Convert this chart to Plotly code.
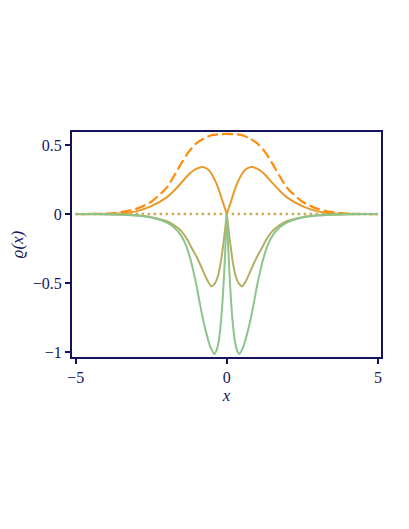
import plotly.graph_objs as go

# values (left half and right half of each curve)
x_dash = [-5, -4.5, -4, -3.5, -3, -2.5, -2, -1.75, -1.5, -1.25, -1, -0.75, -0.5, -0.25, 0,
          0.25, 0.5, 0.75, 1, 1.25, 1.5, 1.75, 2, 2.5, 3, 3.5, 4, 4.5, 5]
y_dash = [0, 0.001, 0.004, 0.014, 0.038, 0.09, 0.19, 0.275, 0.37, 0.455, 0.515, 0.55, 0.573, 0.58, 0.582,
          0.58, 0.573, 0.55, 0.515, 0.455, 0.37, 0.275, 0.19, 0.09, 0.038, 0.014, 0.004, 0.001, 0]

x_orange_l = [-5, -4, -3.5, -3, -2.5, -2, -1.75, -1.5, -1.25, -1, -0.8, -0.6, -0.45, -0.3, -0.15, 0]
y_orange_l = [0, 0.001, 0.005, 0.02, 0.058, 0.12, 0.17, 0.228, 0.29, 0.33, 0.342, 0.32, 0.272, 0.2, 0.1, 0]
x_orange_r = [0, 0.15, 0.3, 0.45, 0.6, 0.8, 1, 1.25, 1.5, 1.75, 2, 2.5, 3, 3.5, 4, 5]
y_orange_r = [0, 0.1, 0.2, 0.272, 0.32, 0.342, 0.33, 0.29, 0.228, 0.17, 0.12, 0.058, 0.02, 0.005, 0.001, 0]

x_zero = [-5, 5]
y_zero = [0, 0]

x_olive_l = [-5, -4, -3.5, -3, -2.5, -2, -1.75, -1.5, -1.33, -1.15, -1, -0.89, -0.75, -0.62, -0.51,
             -0.4, -0.3, -0.2, -0.1, 0]
y_olive_l = [0, -0.001, -0.003, -0.009, -0.022, -0.05, -0.08, -0.125, -0.177, -0.25, -0.31, -0.36, -0.43,
             -0.49, -0.524, -0.505, -0.455, -0.35, -0.19, 0]
x_olive_r = [0, 0.1, 0.2, 0.3, 0.4, 0.51, 0.62, 0.75, 0.89, 1, 1.15, 1.33, 1.5, 1.75, 2, 2.5, 3, 3.5,
             4, 5]
y_olive_r = [0, -0.19, -0.35, -0.455, -0.505, -0.524, -0.49, -0.43, -0.36, -0.31, -0.25, -0.177, -0.125,
             -0.08, -0.05, -0.022, -0.009, -0.003, -0.001, 0]

x_green_l = [-5, -4, -3.5, -3, -2.5, -2, -1.75, -1.5, -1.33, -1.2, -1.11, -1, -0.89, -0.78, -0.67, -0.55,
             -0.41, -0.35, -0.29, -0.23, -0.17, -0.11, -0.055, 0]
y_green_l = [0, -0.001, -0.004, -0.01, -0.025, -0.06, -0.095, -0.16, -0.237, -0.33, -0.41, -0.52, -0.65,
             -0.77, -0.87, -0.96, -1.015, -0.995, -0.95, -0.86, -0.72, -0.52, -0.28, 0]
x_green_r = [0, 0.055, 0.11, 0.17, 0.23, 0.29, 0.35, 0.41, 0.55, 0.67, 0.78, 0.89, 1, 1.11, 1.2, 1.33,
             1.5, 1.75, 2, 2.5, 3, 3.5, 4, 5]
y_green_r = [0, -0.28, -0.52, -0.72, -0.86, -0.95, -0.995, -1.015, -0.96, -0.87, -0.77, -0.65, -0.52,
             -0.41, -0.33, -0.237, -0.16, -0.095, -0.06, -0.025, -0.01, -0.004, -0.001, 0]

navy = '#14145e'
serif = 'Liberation Serif'


def curve(x, y, color, width=2, dash='solid'):
    return go.Scatter(x=x, y=y, mode='lines', line_shape='spline',
                      line=dict(color=color, width=width, dash=dash, smoothing=0.8),
                      hoverinfo='skip')


traces = [
    curve(x_zero, y_zero, '#d6aa55', width=2.5, dash='2.5px,3.5px'),
    curve(x_dash, y_dash, '#ff8c0a', width=2.2, dash='11px,4px'),
    curve(x_orange_l, y_orange_l, '#e89a2c'),
    curve(x_orange_r, y_orange_r, '#e89a2c'),
    curve(x_olive_l, y_olive_l, '#b4ae62'),
    curve(x_olive_r, y_olive_r, '#b4ae62'),
    curve(x_green_l, y_green_l, '#8cc48c'),
    curve(x_green_r, y_green_r, '#8cc48c'),
]

axis_common = dict(showline=True, linecolor=navy, linewidth=2, mirror=True,
                   ticks='outside', ticklen=5, tickwidth=1.5, tickcolor=navy,
                   showgrid=False, zeroline=False, automargin=False,
                   tickfont=dict(family=serif, size=16, color=navy))

# the page body adds 8px on the left/top, so margins are shifted by that
layout = go.Layout(
    width=409, height=529,
    margin=dict(l=64, r=36, t=124, b=180),
    paper_bgcolor='white', plot_bgcolor='white',
    showlegend=False,
    xaxis=dict(range=[-5.12, 5.1], tickvals=[-5, 0, 5],
               title=dict(text='<i>x</i>', font=dict(family=serif, size=17, color=navy), standoff=2),
               **axis_common),
    yaxis=dict(range=[-1.037, 0.596], tickvals=[-1, -0.5, 0, 0.5],
               title=dict(text='<i>ϱ(x)</i>', font=dict(family=serif, size=17, color=navy), standoff=14),
               **axis_common),
)

fig = go.Figure(data=traces, layout=layout)
fig.write_html("out.html")
